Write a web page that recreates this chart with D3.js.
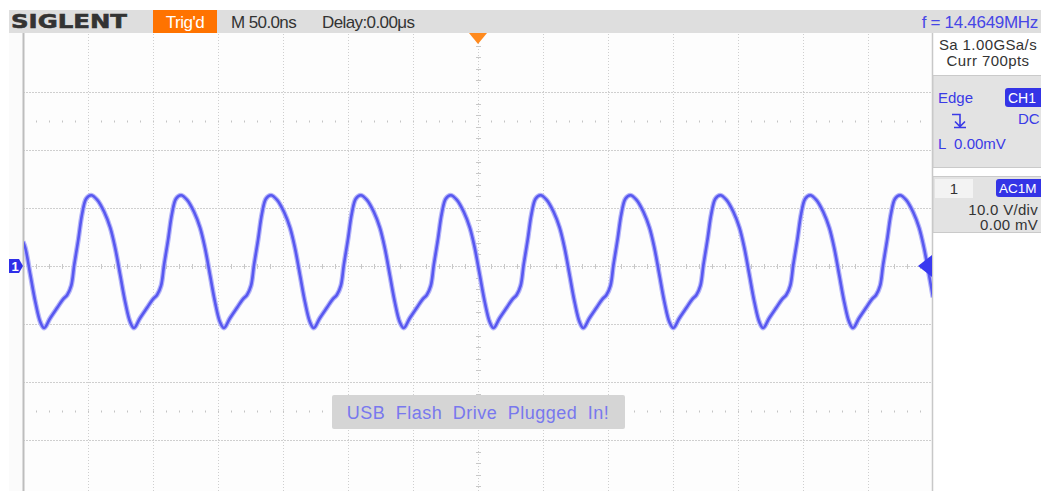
<!DOCTYPE html>
<html>
<head>
<meta charset="utf-8">
<script src="https://cdn.jsdelivr.net/npm/d3@7"></script>
<style>
  body { margin: 0; background: #fff; }
  svg { display: block; font-family: 'Liberation Sans', Arial, sans-serif; }
  text { white-space: pre; }
</style>
</head>
<body>
<svg id="scope" width="1041" height="491"></svg>
<script>
'use strict'

// screen header / readouts
const brand = 'SIGLENT'
const trigState = "Trig'd"
const timebase = 'M 50.0ns'
const delay = 'Delay:0.00\u03bcs'
const freqText = 'f = 14.4649MHz'
const acqLines = ['Sa 1.00GSa/s', 'Curr 700pts']
const trigInfo = { type: 'Edge', source: 'CH1', coupling: 'DC', level: 'L  0.00mV' }
const chanInfo = { num: '1', coupling: 'AC1M', scale: '10.0 V/div', offset: '0.00 mV' }
const message = 'USB Flash Drive Plugged In!'

// axes: 14 div x 50 ns, 8 div x 10 V
const timeGrid = [-300, -250, -200, -150, -100, -50, 0, 50, 100, 150, 200, 250, 300]
const voltGrid = [-30, -20, -10, 0, 10, 20, 30]
const voltDots = [-25, 25]

// CH1 trace: time (ns) and volts
const traceNs = [
  -350, -348.2, -344.3, -340.5, -336.6,
  -333.7, -329.1, -323.7, -319.1, -316.0, -312.9, -310.6, -307.5, -304.5, -301.4, -297.5, -292.9, -287.5, -282.9, -279.1, -275.2, -271.4, -267.5,
  -264.6, -260.0, -254.6, -250.0, -246.9, -243.8, -241.5, -238.4, -235.4, -232.3, -228.4, -223.8, -218.4, -213.8, -210.0, -206.1, -202.3, -198.4,
  -195.4, -190.8, -185.4, -180.8, -177.7, -174.6, -172.3, -169.2, -166.2, -163.1, -159.2, -154.6, -149.2, -144.6, -140.8, -136.9, -133.1, -129.2,
  -126.3, -121.7, -116.3, -111.7, -108.6, -105.5, -103.2, -100.1, -97.1, -94.0, -90.1, -85.5, -80.1, -75.5, -71.7, -67.8, -64.0, -60.1,
  -57.1, -52.5, -47.1, -42.5, -39.4, -36.3, -34.0, -30.9, -27.9, -24.8, -20.9, -16.3, -10.9, -6.3, -2.5, 1.4, 5.2, 9.1,
  12.0, 16.6, 22.0, 26.6, 29.7, 32.8, 35.1, 38.2, 41.2, 44.3, 48.2, 52.8, 58.2, 62.8, 66.6, 70.5, 74.3, 78.2,
  81.1, 85.7, 91.1, 95.7, 98.8, 101.9, 104.2, 107.3, 110.3, 113.4, 117.3, 121.9, 127.3, 131.9, 135.7, 139.6, 143.4, 147.3,
  150.3, 154.9, 160.3, 164.9, 168.0, 171.1, 173.4, 176.5, 179.5, 182.6, 186.5, 191.1, 196.5, 201.1, 204.9, 208.8, 212.6, 216.5,
  219.4, 224.0, 229.4, 234.0, 237.1, 240.2, 242.5, 245.6, 248.6, 251.7, 255.6, 260.2, 265.6, 270.2, 274.0, 277.9, 281.7, 285.6,
  288.5, 293.1, 298.5, 303.1, 306.2, 309.3, 311.6, 314.7, 317.7, 320.8, 324.7, 329.3, 334.7, 339.3, 343.1, 347.0, 350
]
const traceV = [
  4.2, 3.1, -1.6, -6.2, -9.7,
  -10.7, -9.0, -7.2, -5.7, -5.0, -3.4, 0.2, 4.5, 9.0, 11.6, 12.2, 11.4, 9.3, 6.6, 3.1, -1.6, -6.2, -9.7,
  -10.7, -9.0, -7.2, -5.7, -5.0, -3.4, 0.2, 4.5, 9.0, 11.6, 12.2, 11.4, 9.3, 6.6, 3.1, -1.6, -6.2, -9.7,
  -10.7, -9.0, -7.2, -5.7, -5.0, -3.4, 0.2, 4.5, 9.0, 11.6, 12.2, 11.4, 9.3, 6.6, 3.1, -1.6, -6.2, -9.7,
  -10.7, -9.0, -7.2, -5.7, -5.0, -3.4, 0.2, 4.5, 9.0, 11.6, 12.2, 11.4, 9.3, 6.6, 3.1, -1.6, -6.2, -9.7,
  -10.7, -9.0, -7.2, -5.7, -5.0, -3.4, 0.2, 4.5, 9.0, 11.6, 12.2, 11.4, 9.3, 6.6, 3.1, -1.6, -6.2, -9.7,
  -10.7, -9.0, -7.2, -5.7, -5.0, -3.4, 0.2, 4.5, 9.0, 11.6, 12.2, 11.4, 9.3, 6.6, 3.1, -1.6, -6.2, -9.7,
  -10.7, -9.0, -7.2, -5.7, -5.0, -3.4, 0.2, 4.5, 9.0, 11.6, 12.2, 11.4, 9.3, 6.6, 3.1, -1.6, -6.2, -9.7,
  -10.7, -9.0, -7.2, -5.7, -5.0, -3.4, 0.2, 4.5, 9.0, 11.6, 12.2, 11.4, 9.3, 6.6, 3.1, -1.6, -6.2, -9.7,
  -10.7, -9.0, -7.2, -5.7, -5.0, -3.4, 0.2, 4.5, 9.0, 11.6, 12.2, 11.4, 9.3, 6.6, 3.1, -1.6, -6.2, -9.7,
  -10.7, -9.0, -7.2, -5.7, -5.0, -3.4, 0.2, 4.5, 9.0, 11.6, 12.2, 11.4, 9.3, 6.6, 3.1, -1.6, -5.4
]

const svg = d3.select('#scope')
const plot = { left: 23, right: 933, top: 34, bottom: 498 }

const x = d3.scaleLinear().domain([-350, 350]).range([plot.left, plot.right])
const y = d3.scaleLinear().domain([-40, 40]).range([plot.bottom, plot.top])

// plot background
svg.append('rect').attr('x', 9).attr('y', 33).attr('width', plot.left - 9).attr('height', 460).attr('fill', '#fbfbfb')
svg.append('rect').attr('x', plot.left).attr('y', 33).attr('width', plot.right - plot.left).attr('height', 460).attr('fill', '#fdfdfd')

// grid
const grid = svg.append('g').attr('class', 'grid')
grid.selectAll('.vgrid').data(timeGrid).enter().append('line')
  .attr('x1', d => Math.round(x(d)) + 0.5).attr('x2', d => Math.round(x(d)) + 0.5)
  .attr('y1', plot.top).attr('y2', 491)
  .attr('stroke', '#cfcfcf').attr('stroke-dasharray', '1,2')
grid.selectAll('.hgrid').data(voltGrid).enter().append('line')
  .attr('x1', plot.left).attr('x2', plot.right)
  .attr('y1', d => Math.round(y(d)) + 0.5).attr('y2', d => Math.round(y(d)) + 0.5)
  .attr('stroke', '#cfcfcf').attr('stroke-dasharray', '2,1')
grid.selectAll('.dots').data(voltDots).enter().append('line')
  .attr('x1', x(-350) + 13).attr('x2', plot.right)
  .attr('y1', d => Math.round(y(d)) + 0.5).attr('y2', d => Math.round(y(d)) + 0.5)
  .attr('stroke', '#c4c4c4').attr('stroke-width', 2).attr('stroke-dasharray', '1,12')

// minor ticks on the centre lines
const hTicks = x.ticks(70).filter(d => d % 50 !== 0)
grid.selectAll('.ht').data(hTicks).enter().append('line')
  .attr('x1', d => Math.round(x(d)) + 0.5).attr('x2', d => Math.round(x(d)) + 0.5)
  .attr('y1', y(0) - 2).attr('y2', y(0) + 3)
  .attr('stroke', '#c8c8c8')
const vTicks = y.ticks(40).filter(d => d % 10 !== 0)
grid.selectAll('.vt').data(vTicks).enter().append('line')
  .attr('x1', x(0) - 2).attr('x2', x(0) + 3)
  .attr('y1', d => Math.round(y(d)) + 0.5).attr('y2', d => Math.round(y(d)) + 0.5)
  .attr('stroke', '#c8c8c8')

// left frame line and right divider
svg.append('line').attr('x1', plot.left + 0.5).attr('x2', plot.left + 0.5).attr('y1', 33).attr('y2', 491)
  .attr('stroke', '#bdbdbd').attr('stroke-width', 2)
svg.append('line').attr('x1', plot.right - 0.5).attr('x2', plot.right - 0.5).attr('y1', 33).attr('y2', 491)
  .attr('stroke', '#c8c8c8').attr('stroke-width', 1.5)

// USB message
svg.append('rect').attr('x', 332).attr('y', 395).attr('width', 293).attr('height', 34).attr('rx', 2)
  .attr('fill', '#d5d5d5')
svg.append('text').attr('x', x(0)).attr('y', 419).attr('text-anchor', 'middle')
  .attr('font-size', 18).attr('letter-spacing', 0.5).attr('word-spacing', 5)
  .attr('fill', '#7878ee').text(message)

// trace
svg.append('clipPath').attr('id', 'clip').append('rect')
  .attr('x', plot.left + 1).attr('y', plot.top).attr('width', plot.right - plot.left - 2).attr('height', 460)
const pts = traceNs.map((t, i) => [t, traceV[i]])
const line = d3.line().x(d => x(d[0])).y(d => y(d[1])).curve(d3.curveCatmullRom.alpha(0.5))
const tr = svg.append('g').attr('clip-path', 'url(#clip)')
tr.append('path').attr('d', line(pts)).attr('fill', 'none')
  .attr('stroke', '#b4b4f8').attr('stroke-width', 5).attr('stroke-linejoin', 'round')
tr.append('path').attr('d', line(pts)).attr('fill', 'none')
  .attr('stroke', '#5858f0').attr('stroke-width', 2.6).attr('stroke-linejoin', 'round')

// channel marker (left) and trigger level marker (right)
const y0 = y(0)
svg.append('path').attr('d', `M9,${y0 - 7}H19L23,${y0}L19,${y0 + 7}H9Z`).attr('fill', '#2f2fe8')
svg.append('text').attr('x', 15).attr('y', y0 + 5).attr('text-anchor', 'middle')
  .attr('font-size', 13).attr('font-weight', 'bold').attr('fill', '#fff').text('1')
svg.append('path').attr('d', `M${plot.right - 15},${y0}L${plot.right - 1},${y0 - 11}V${y0 + 11}Z`).attr('fill', '#3a3af0')

// top status bar
svg.append('rect').attr('x', 9).attr('y', 10).attr('width', 1032).attr('height', 23).attr('fill', '#dedede')
svg.append('text').attr('x', 11).attr('y', 28).attr('font-family', 'DejaVu Sans').attr('font-weight', 'bold')
  .attr('font-size', 20).attr('fill', '#333').attr('stroke', '#333').attr('stroke-width', 0.6)
  .attr('textLength', 116).attr('lengthAdjust', 'spacingAndGlyphs').text(brand)
svg.append('rect').attr('x', 153).attr('y', 10).attr('width', 64).attr('height', 23).attr('fill', '#ff7300')
svg.append('text').attr('x', 185).attr('y', 28).attr('text-anchor', 'middle').attr('font-size', 17)
  .attr('letter-spacing', -0.5).attr('fill', '#fff').text(trigState)
svg.append('text').attr('x', 231).attr('y', 28).attr('font-size', 17).attr('letter-spacing', -0.6)
  .attr('fill', '#333').text(timebase)
svg.append('text').attr('x', 322).attr('y', 28).attr('font-size', 17).attr('letter-spacing', -0.6)
  .attr('fill', '#333').text(delay)
svg.append('text').attr('x', 1038).attr('y', 28).attr('text-anchor', 'end').attr('font-size', 17)
  .attr('letter-spacing', -0.3).attr('fill', '#4646e6').text(freqText)

// trigger position arrow
svg.append('path').attr('d', `M${x(0) - 9},33H${x(0) + 9}L${x(0)},44Z`).attr('fill', '#ff8a1e')

// right panel
const panel = svg.append('g').attr('font-size', 15)
panel.selectAll('.acq').data(acqLines).enter().append('text')
  .attr('x', 988).attr('y', (d, i) => 50 + i * 16).attr('text-anchor', 'middle')
  .attr('letter-spacing', 0.4).attr('fill', '#333').text(d => d)

panel.append('rect').attr('x', 933).attr('y', 75.5).attr('width', 110).attr('height', 92)
  .attr('fill', '#e3e3e3').attr('stroke', '#cacaca')
panel.append('text').attr('x', 938).attr('y', 103).attr('fill', '#3a3ae6').text(trigInfo.type)
panel.append('rect').attr('x', 1005).attr('y', 88).attr('width', 40).attr('height', 19).attr('rx', 3).attr('fill', '#3434e6')
panel.append('text').attr('x', 1008).attr('y', 103).attr('font-size', 14).attr('fill', '#fff').text(trigInfo.source)
panel.append('path').attr('d', 'M952,114.5H960V126.5M955,121.5L960,126.5L965,121.5M954,127.5H966')
  .attr('fill', 'none').attr('stroke', '#3a3ae6').attr('stroke-width', 1.6)
panel.append('text').attr('x', 1018).attr('y', 124).attr('fill', '#3a3ae6').text(trigInfo.coupling)
panel.append('text').attr('x', 938).attr('y', 149).attr('fill', '#3a3ae6').text(trigInfo.level)

panel.append('rect').attr('x', 933).attr('y', 176.5).attr('width', 110).attr('height', 56)
  .attr('fill', '#e3e3e3').attr('stroke', '#cacaca')
panel.append('rect').attr('x', 935).attr('y', 179).attr('width', 38).attr('height', 19).attr('fill', '#f3f3f3')
panel.append('text').attr('x', 954).attr('y', 194).attr('text-anchor', 'middle').attr('fill', '#333').text(chanInfo.num)
panel.append('rect').attr('x', 996).attr('y', 179).attr('width', 48).attr('height', 18).attr('rx', 3).attr('fill', '#3434e6')
panel.append('text').attr('x', 999).attr('y', 193).attr('font-size', 13.5).attr('fill', '#fff').text(chanInfo.coupling)
panel.append('text').attr('x', 1038).attr('y', 215).attr('text-anchor', 'end').attr('letter-spacing', 0.3)
  .attr('fill', '#333').text(chanInfo.scale)
panel.append('text').attr('x', 1038).attr('y', 230).attr('text-anchor', 'end').attr('letter-spacing', 0.3)
  .attr('fill', '#333').text(chanInfo.offset)
</script>
</body>
</html>
